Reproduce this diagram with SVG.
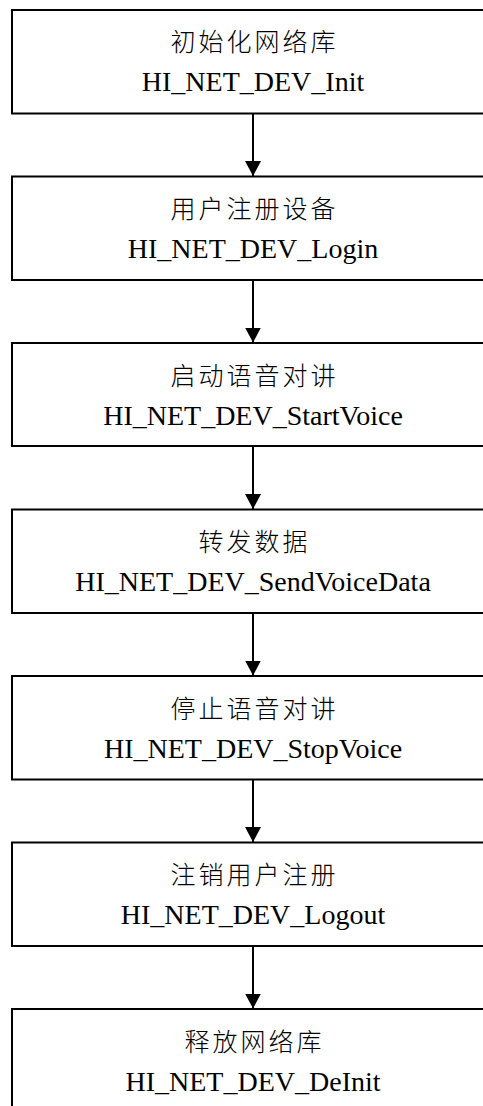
<svg xmlns="http://www.w3.org/2000/svg" width="483" height="1106" viewBox="0 0 483 1106">
<style>
.box{fill:#fff;stroke:#000;stroke-width:2}
.zh{font-family:"Noto Sans CJK SC",sans-serif;font-size:25px;font-weight:300;letter-spacing:3px;text-anchor:middle;fill:#000}
.en{font-family:"Liberation Serif",serif;font-size:28px;text-anchor:middle;fill:#000}
.conn line{stroke:#000;stroke-width:2}
</style>
<defs>
<marker id="ah" markerUnits="userSpaceOnUse" markerWidth="16" markerHeight="17" refX="15" refY="8" orient="auto">
<path d="M0,0 L15,8 L0,16 Z" fill="#000"/>
</marker>
</defs>
<rect width="483" height="1106" fill="#fff"/>
<g id="n1"><rect class="box" x="12" y="10" width="482" height="103.5"/><text class="zh" x="254.5" y="51">初始化网络库</text><text class="en" x="253" y="91">HI_NET_DEV_Init</text></g>
<g id="n2"><rect class="box" x="12" y="176.5" width="482" height="103.5"/><text class="zh" x="254.5" y="218">用户注册设备</text><text class="en" x="253" y="258">HI_NET_DEV_Login</text></g>
<g id="n3"><rect class="box" x="12" y="343" width="482" height="103"/><text class="zh" x="254.5" y="384.5">启动语音对讲</text><text class="en" x="253" y="424.5">HI_NET_DEV_StartVoice</text></g>
<g id="n4"><rect class="box" x="12" y="509.5" width="482" height="103.5"/><text class="zh" x="254.5" y="551">转发数据</text><text class="en" x="253" y="591">HI_NET_DEV_SendVoiceData</text></g>
<g id="n5"><rect class="box" x="12" y="676" width="482" height="103.5"/><text class="zh" x="254.5" y="717.5">停止语音对讲</text><text class="en" x="253" y="757.5">HI_NET_DEV_StopVoice</text></g>
<g id="n6"><rect class="box" x="12" y="842.5" width="482" height="103.5"/><text class="zh" x="254.5" y="884">注销用户注册</text><text class="en" x="253" y="924">HI_NET_DEV_Logout</text></g>
<g id="n7"><rect class="box" x="12" y="1009" width="482" height="110"/><text class="zh" x="254.5" y="1050.5">释放网络库</text><text class="en" x="253" y="1090.5">HI_NET_DEV_DeInit</text></g>
<g id="connectors" class="conn">
<line x1="253" y1="113.5" x2="253" y2="176" marker-end="url(#ah)"/>
<line x1="253" y1="280" x2="253" y2="342.5" marker-end="url(#ah)"/>
<line x1="253" y1="446" x2="253" y2="509" marker-end="url(#ah)"/>
<line x1="253" y1="613" x2="253" y2="675.5" marker-end="url(#ah)"/>
<line x1="253" y1="779.5" x2="253" y2="842" marker-end="url(#ah)"/>
<line x1="253" y1="946" x2="253" y2="1008.5" marker-end="url(#ah)"/>
</g>
</svg>
